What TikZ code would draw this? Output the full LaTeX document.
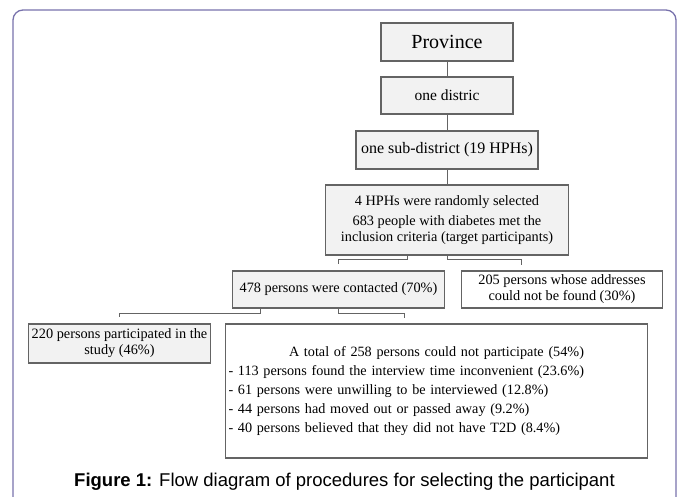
\documentclass[tikz,border=0pt]{standalone}
\usepackage{fontspec}
\setmainfont{Liberation Serif}
\newfontfamily\capfont{Liberation Sans}
\usetikzlibrary{positioning}

\definecolor{framepurple}{RGB}{120,114,172}
\definecolor{boxline}{RGB}{100,100,100}
\definecolor{boxfill}{RGB}{242,242,242}
\definecolor{linkgray}{RGB}{100,100,100}

\tikzset{
  box/.style={draw=boxline, fill=boxfill, line width=1.1pt, inner sep=0pt,
    align=center, font=\fontsize{14.3}{16}\selectfont},
  whitebox/.style={box, fill=white},
  link/.style={draw=linkgray, line width=1pt},
  caption/.style={font=\capfont\fontsize{18.5}{20}\selectfont, inner sep=0pt}
}

\begin{document}
\begin{tikzpicture}[x=1pt, y=-1pt, node distance=1pt, on grid]
    \useasboundingbox (0,0) rectangle (678,497);
    % outer frame
    \draw[framepurple, line width=1.3pt, rounded corners=10pt] (13,10) rectangle (676,530);

    \node[box, minimum width=132pt, minimum height=38pt, font=\fontsize{20}{22}\selectfont] (prov) at (447,42) {Province};
    \node[box, minimum width=132pt, minimum height=37pt, font=\fontsize{15.5}{17}\selectfont, below=53.5pt of prov] (dist) {one distric};
    \node[box, minimum width=182pt, minimum height=38pt, font=\fontsize{16}{18}\selectfont, below=54.5pt of dist] (sub) {one sub-district (19 HPHs)};
    \node[box, minimum width=243pt, minimum height=70pt, below=70pt of sub] (sel)
        {4 HPHs were randomly selected\\[4pt] 683 people with diabetes met the\\ inclusion  criteria  (target participants)};
    \node[box, minimum width=212pt, minimum height=37pt, below left=69.5pt and 108.5pt of sel] (cont)
        {478 persons were contacted (70\%)};
    \node[whitebox, minimum width=201pt, minimum height=37pt, right=223.5pt of cont] (addr)
        {205 persons whose addresses\\ could not be found (30\%)};
    \node[box, minimum width=182pt, minimum height=39pt, below left=54pt and 219pt of cont] (part)
        {220 persons participated in the\\ study (46\%)};
    \node[whitebox, minimum width=422pt, minimum height=134pt, text width=416pt, align=left,
        font=\fontsize{14.2}{19}\selectfont, below right=101.5pt and 98pt of cont] (nopart)
        {\centerline{A total of 258 persons could not participate (54\%)}
         - 113 persons found the interview time inconvenient (23.6\%)\\
         - 61 persons were unwilling to be interviewed (12.8\%)\\
         - 44 persons had moved out or passed away (9.2\%)\\
         - 40 persons believed that they did not have T2D (8.4\%)};

    \node[caption] (cap) at (344.5,482)
        {\textbf{Figure 1:} Flow diagram of procedures for selecting the participant};

    \coordinate (addrTip) at (521,265);
    \coordinate (nopartTip) at (404,318);

    \path[link]
    (prov) edge (dist)
    (dist) edge (sub)
    (sub) edge (sel);
    \draw[link] ([xshift=-39.5pt]sel.south) -- ++(0,4) -| ([yshift=6pt]cont.north);
    \draw[link] (sel.south) -- ++(0,4) -| (addrTip);
    \draw[link] ([xshift=-78pt]cont.south) -- ++(0,5) -| ([yshift=6pt]part.north);
    \draw[link] (cont.south) -- ++(0,5) -| (nopartTip);
\end{tikzpicture}
\end{document}
